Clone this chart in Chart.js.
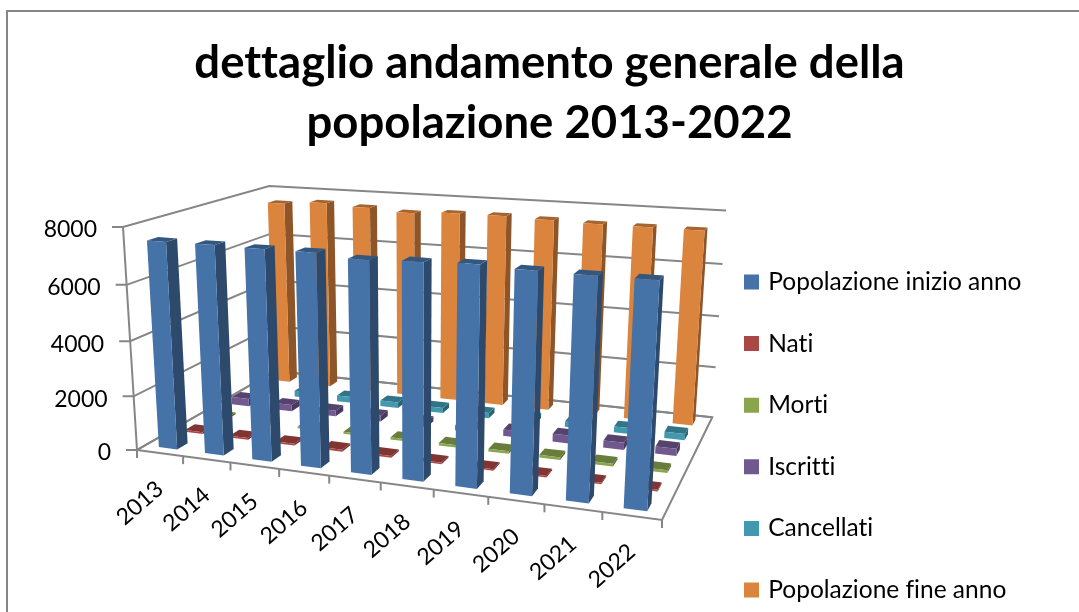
<!DOCTYPE html>
<html>
<head>
<meta charset="utf-8">
<title>dettaglio andamento generale della popolazione</title>
<script src="https://cdn.jsdelivr.net/npm/chart.js@4"></script>
<style>
    html, body { margin: 0; padding: 0; background: #fff; overflow: hidden; }
    canvas { display: block; }
</style>
</head>
<body>
<canvas id="chart3d" width="1079" height="612"></canvas>
<script>
const categories = ['2013', '2014', '2015', '2016', '2017', '2018', '2019', '2020', '2021', '2022'];
const popInizio = [7480, 7490, 7470, 7480, 7360, 7420, 7480, 7410, 7390, 7390];
const nati = [70, 70, 70, 70, 70, 55, 55, 55, 55, 55];
const morti = [70, 75, 70, 80, 85, 90, 100, 100, 100, 100];
const iscritti = [300, 250, 230, 230, 200, 200, 250, 300, 270, 270];
const cancellati = [220, 240, 240, 230, 210, 210, 210, 210, 230, 240];
const popFine = [7510, 7630, 7540, 7430, 7520, 7530, 7480, 7430, 7430, 7420];
const tickValues = { min: 0, max: 8000, step: 2000 };

const seriesNames = ['Popolazione inizio anno', 'Nati', 'Morti', 'Iscritti', 'Cancellati', 'Popolazione fine anno'];
const seriesData = [popInizio, nati, morti, iscritti, cancellati, popFine];
const seriesColors = ['#4572A7', '#AA4643', '#89A54E', '#71588F', '#4198AF', '#DB843D'];

// camera of the 3d box: floor corners and top of the value axis, with the perspective weights
const view = {
    origin: [137, 450], right: [662, 520], up: [123, 227], back: [275, 371],
    ku: 0.8665, kv: 0.952, kw: 1.216
};

function project(u, v, w) {
    const n = [0, 1].map(i =>
        view.origin[i] +
        u * (view.ku * view.right[i] - view.origin[i]) +
        v * (view.kv * view.up[i] - view.origin[i]) +
        w * (view.kw * view.back[i] - view.origin[i]));
    const d = 1 + u * (view.ku - 1) + v * (view.kv - 1) + w * (view.kw - 1);
    return [n[0] / d, n[1] / d];
}

function shade(hex, f) {
    const r = parseInt(hex.slice(1, 3), 16) * f;
    const g = parseInt(hex.slice(3, 5), 16) * f;
    const b = parseInt(hex.slice(5, 7), 16) * f;
    return 'rgb(' + Math.round(r) + ',' + Math.round(g) + ',' + Math.round(b) + ')';
}

function line(ctx, a, b) {
    ctx.beginPath();
    ctx.moveTo(a[0], a[1]);
    ctx.lineTo(b[0], b[1]);
    ctx.stroke();
}

function face(ctx, pts, color) {
    ctx.fillStyle = color;
    ctx.beginPath();
    pts.forEach((p, i) => i ? ctx.lineTo(p[0], p[1]) : ctx.moveTo(p[0], p[1]));
    ctx.closePath();
    ctx.fill();
}

function drawFrame(chart) {
    const ctx = chart.ctx;
    const area = chart.chartArea;
    const xs = chart.scales.x;
    const ys = chart.scales.y;

    ctx.save();
    ctx.strokeStyle = '#868686';
    ctx.lineWidth = 2;
    ctx.lineCap = 'butt';

    // walls, one line per tick of the value scale
    ys.ticks.forEach(t => {
        const v = (area.bottom - ys.getPixelForValue(t.value)) / area.height;
        const a = project(0, v, 0);
        const b = project(0, v, 1);
        const c = project(1, v, 1);
        ctx.beginPath();
        ctx.moveTo(a[0] - 11, a[1]);
        ctx.lineTo(a[0], a[1]);
        ctx.lineTo(b[0], b[1]);
        ctx.lineTo(c[0], c[1]);
        ctx.stroke();
    });
    line(ctx, project(0, 0, 0), project(0, 1, 0));

    // floor
    ctx.beginPath();
    [[0, 0], [1, 0], [1, 1], [0, 1]].forEach((c, i) => {
        const p = project(c[0], 0, c[1]);
        i ? ctx.lineTo(p[0], p[1]) : ctx.moveTo(p[0], p[1]);
    });
    ctx.closePath();
    ctx.stroke();

    // category ticks
    for (let i = 0; i <= categories.length; i++) {
        const u = (xs.getPixelForValue(i - 0.5) - area.left) / area.width;
        const p = project(u, 0, 0);
        line(ctx, p, [p[0], p[1] + 8]);
    }

    // tick labels follow the projected axes
    ctx.fillStyle = '#000';
    ctx.font = '23px Lato';
    ctx.textBaseline = 'middle';
    ctx.textAlign = 'right';
    ys.ticks.forEach(t => {
        const v = (area.bottom - ys.getPixelForValue(t.value)) / area.height;
        const p = project(0, v, 0);
        ctx.fillText(String(t.value), p[0] - 26, p[1] + 3);
    });
    ctx.textAlign = 'center';
    categories.forEach((c, i) => {
        const u = (xs.getPixelForValue(i) - area.left) / area.width;
        const p = project(u, 0, 0);
        ctx.save();
        ctx.translate(p[0] - 20, p[1] + 50);
        ctx.rotate(-41 * Math.PI / 180);
        ctx.fillText(xs.getLabelForValue(i), 0, 0);
        ctx.restore();
    });
    ctx.restore();
}

function drawBars(chart) {
    const ctx = chart.ctx;
    const area = chart.chartArea;
    const rows = chart.data.datasets.length;
    const slot = area.width / categories.length;

    // back row first so the nearer rows cover it
    for (let i = rows - 1; i >= 0; i--) {
        const color = chart.data.datasets[i].backgroundColor;
        chart.getDatasetMeta(i).data.forEach(el => {
            const u0 = (el.x - el.width / 2 - area.left) / area.width;
            const u1 = (el.x + el.width / 2 - area.left) / area.width;
            const v = (el.base - el.y) / area.height;
            const depth = (el.width / slot) / rows;
            const w0 = (i + 0.5) / rows - depth / 2;
            const w1 = w0 + depth;
            face(ctx, [project(u1, 0, w0), project(u1, 0, w1), project(u1, v, w1), project(u1, v, w0)], shade(color, 0.65));
            face(ctx, [project(u0, v, w0), project(u1, v, w0), project(u1, v, w1), project(u0, v, w1)], shade(color, 0.76));
            face(ctx, [project(u0, 0, w0), project(u1, 0, w0), project(u1, v, w0), project(u0, v, w0)], color);
        });
    }
}

const box3d = {
    id: 'box3d',
    afterLayout(chart) {
        const lg = chart.legend;
        const pad = lg.options.labels.padding;
        const item = lg.options.labels.font.size;
        lg.top = 282 - item / 2 - pad;
        lg.bottom = lg.top + lg.height;
        lg.left = 747 - pad;
        lg.right = lg.left + lg.width;
    },
    beforeDraw(chart) {
        const ctx = chart.ctx;
        // Lato would join tt and ti otherwise
        ctx.textRendering = 'optimizeSpeed';
        ctx.save();
        ctx.strokeStyle = '#868686';
        ctx.lineWidth = 2;
        // the frame runs off the right and bottom of the picture
        ctx.strokeRect(7, 11, 1100, 640);
        ctx.restore();
    },
    beforeDatasetsDraw(chart) {
        drawFrame(chart);
        drawBars(chart);
        return false;
    }
};

const datasets = seriesNames.map((name, i) => ({
    label: name,
    data: seriesData[i],
    backgroundColor: seriesColors[i],
    borderColor: seriesColors[i],
    borderWidth: 6,
    grouped: false,
    barPercentage: 1,
    categoryPercentage: 0.4
}));

new Chart(document.getElementById('chart3d').getContext('2d'), {
    type: 'bar',
    data: { labels: categories, datasets: datasets },
    plugins: [box3d],
    options: {
        responsive: false,
        animation: false,
        layout: { padding: { left: 20, bottom: 100 } },
        plugins: {
            title: {
                display: true,
                text: ['dettaglio andamento generale della', 'popolazione 2013-2022'],
                color: '#000',
                font: { family: 'Lato', size: 45.5, weight: 'bold', lineHeight: 60 / 45.5 },
                padding: { top: 33, bottom: 10 }
            },
            legend: {
                position: 'right',
                align: 'start',
                labels: {
                    color: '#000',
                    font: { family: 'Lato', size: 24.5 },
                    boxWidth: 9,
                    boxHeight: 9,
                    padding: 37.1
                }
            },
            tooltip: { enabled: false }
        },
        scales: {
            x: { display: false },
            y: {
                display: false,
                min: tickValues.min,
                max: tickValues.max,
                ticks: { stepSize: tickValues.step }
            }
        }
    }
});
</script>
</body>
</html>
